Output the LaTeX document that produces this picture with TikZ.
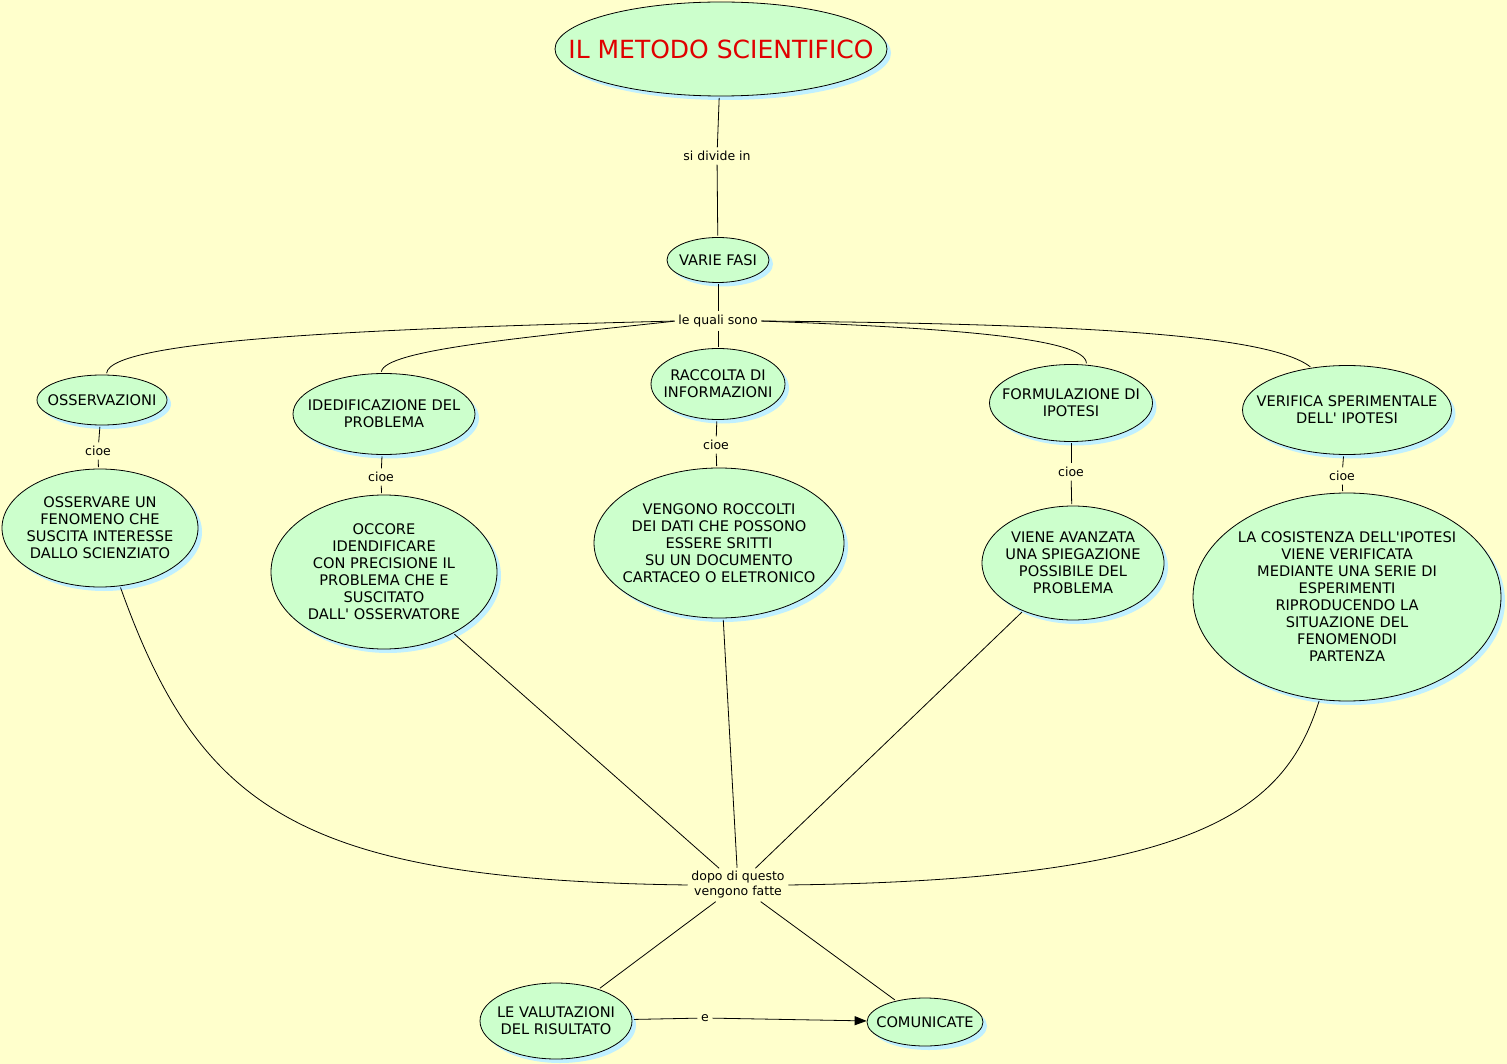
\documentclass[tikz,border=0pt]{standalone}
\usepackage{fontspec}
\setmainfont{DejaVu Sans}
\usetikzlibrary{shapes.geometric,shadows,arrows.meta}
\definecolor{bgyellow}{HTML}{FFFFCC}
\definecolor{bubgreen}{HTML}{CCFFCC}
\definecolor{shadowblue}{HTML}{C0F0FF}
\definecolor{titlered}{HTML}{E00000}
\tikzset{
bubble/.style={ellipse, draw=black, fill=bubgreen, line width=0.8pt, inner xsep=-200pt, inner ysep=-200pt, align=center, font=\fontsize{14.6}{17}\selectfont, drop shadow={shadow xshift=4pt, shadow yshift=-4pt, fill=shadowblue, opacity=1}},
linkword/.style={inner sep=2pt, align=center, font=\fontsize{12.5}{15}\selectfont},
link/.style={draw=black, line width=0.8pt, shorten <=1.5pt, shorten >=1.5pt}
}
\begin{document}
\begin{tikzpicture}[x=1pt,y=-1pt]
\fill[bgyellow] (0,0) rectangle (1507,1064);
\useasboundingbox (0,0) rectangle (1507,1064);
\node[bubble, minimum width=332pt, minimum height=94pt, text=titlered, font=\fontsize{25}{30}\selectfont] (metodo) at (721,49) {IL METODO SCIENTIFICO};
\node[linkword] (divide) at (717,156) {si divide in};
\node[bubble, minimum width=102pt, minimum height=45pt] (fasi) at (718,260) {VARIE FASI};
\node[linkword] (quali) at (718,321) {le quali sono};
\node[bubble, minimum width=130pt, minimum height=50pt] (osserv) at (102,400) {OSSERVAZIONI};
\node[bubble, minimum width=182pt, minimum height=81pt] (identif) at (384,414) {IDEDIFICAZIONE DEL\\PROBLEMA};
\node[bubble, minimum width=134pt, minimum height=71pt] (raccolta) at (718,384) {RACCOLTA DI\\INFORMAZIONI};
\node[bubble, minimum width=163pt, minimum height=77pt] (formul) at (1071,403) {FORMULAZIONE DI\\IPOTESI};
\node[bubble, minimum width=209pt, minimum height=89pt] (verifica) at (1347,410) {VERIFICA SPERIMENTALE\\DELL\textquotesingle{} IPOTESI};
\node[linkword] (cioeA) at (98,451) {cioe};
\node[linkword] (cioeB) at (381,477) {cioe};
\node[linkword] (cioeC) at (716,445) {cioe};
\node[linkword] (cioeD) at (1071,472) {cioe};
\node[linkword] (cioeE) at (1342,476) {cioe};
\node[bubble, minimum width=196pt, minimum height=118pt] (osservare) at (100,528) {OSSERVARE UN\\FENOMENO CHE\\SUSCITA INTERESSE\\DALLO SCIENZIATO};
\node[bubble, minimum width=226pt, minimum height=154pt] (occore) at (384,572) {OCCORE\\IDENDIFICARE\\CON PRECISIONE IL\\PROBLEMA CHE E\\SUSCITATO\\DALL\textquotesingle{} OSSERVATORE};
\node[bubble, minimum width=250pt, minimum height=150pt] (vengono) at (719,543) {VENGONO ROCCOLTI\\DEI DATI CHE POSSONO\\ESSERE SRITTI\\SU UN DOCUMENTO\\CARTACEO O ELETRONICO};
\node[bubble, minimum width=182pt, minimum height=114pt] (viene) at (1073,563) {VIENE AVANZATA\\UNA SPIEGAZIONE\\POSSIBILE DEL\\PROBLEMA};
\node[bubble, minimum width=308pt, minimum height=208pt] (cosist) at (1347,597) {LA COSISTENZA DELL\textquotesingle IPOTESI\\VIENE VERIFICATA\\MEDIANTE UNA SERIE DI\\ESPERIMENTI\\RIPRODUCENDO LA\\SITUAZIONE DEL\\FENOMENODI\\PARTENZA};
\node[linkword] (dopo) at (738,885) {dopo di questo\\vengono fatte};
\node[bubble, minimum width=152pt, minimum height=76pt] (valut) at (556,1021) {LE VALUTAZIONI\\DEL RISULTATO};
\node[bubble, minimum width=116pt, minimum height=48pt] (comun) at (925,1022) {COMUNICATE};
\node[linkword] (e) at (705,1018) {e};
\draw[link] (metodo) -- (divide);
\draw[link] (divide) -- (fasi);
\draw[link] (fasi) -- (quali);
\draw[link] (quali) -- (raccolta);
\draw[link] (quali.west) .. controls (400,328) and (110,338) .. (osserv.80);
\draw[link] (quali.west) .. controls (520,338) and (385,350) .. (identif.94);
\draw[link] (quali.east) .. controls (950,328) and (1086,338) .. (formul.68);
\draw[link] (quali.east) .. controls (1100,324) and (1270,336) .. (verifica.130);
\draw[link] (osserv) -- (cioeA);
\draw[link] (cioeA) -- (osservare);
\draw[link] (identif) -- (cioeB);
\draw[link] (cioeB) -- (occore);
\draw[link] (raccolta) -- (cioeC);
\draw[link] (cioeC) -- (vengono);
\draw[link] (formul) -- (cioeD);
\draw[link] (cioeD) -- (viene);
\draw[link] (verifica) -- (cioeE);
\draw[link] (cioeE) -- (cosist);
\draw[link] (osservare.-71) .. controls (200,810) and (300,880) .. (dopo.west);
\draw[link] (occore) -- (dopo);
\draw[link] (vengono) -- (dopo);
\draw[link] (viene) -- (dopo);
\draw[link] (cosist.-105) .. controls (1285,810) and (1200,880) .. (dopo.east);
\draw[link] (dopo) -- (valut);
\draw[link] (dopo) -- (comun);
\draw[link] (valut) -- (e);
\draw[link, shorten >=0pt, -{Triangle[length=12pt,width=9pt]}] (e) -- (comun);
\end{tikzpicture}
\end{document}
